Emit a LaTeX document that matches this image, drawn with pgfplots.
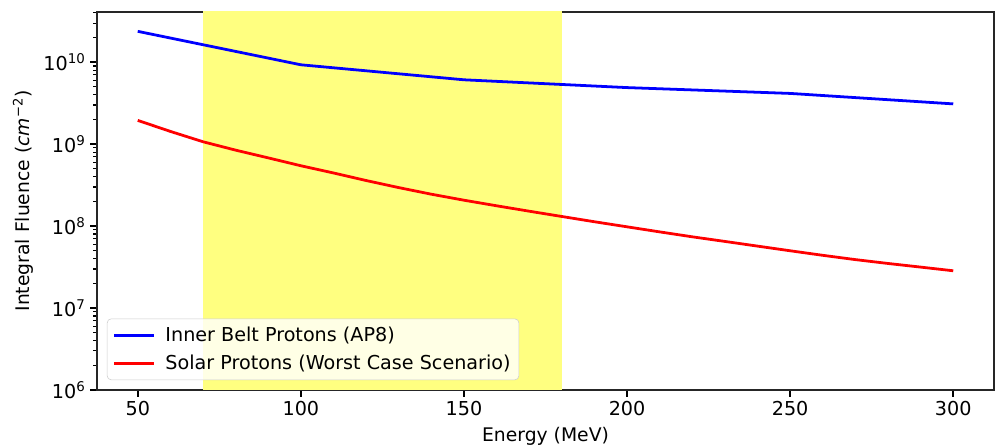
\documentclass[border=0pt]{standalone}
\usepackage{fontspec}
\setmainfont{DejaVu Sans}
\usepackage{pgfplots}
\pgfplotsset{compat=1.18}
\begin{document}
\begin{tikzpicture}[x=0.72pt,y=0.72pt]
\useasboundingbox (-97,-56) rectangle (899,390);
\begin{axis}[
  at={(0,0)}, anchor=south west,
  scale only axis, width=645.84pt, height=272.16pt,
  xmode=normal, ymode=log,
  xmin=37.5, xmax=312.5, ymin=1e6, ymax=4.1e10,
  xtick={50,100,150,200,250,300},
  ytick={1e6,1e7,1e8,1e9,1e10},
  minor ytick={2e6,3e6,4e6,5e6,6e6,7e6,8e6,9e6,2e7,3e7,4e7,5e7,6e7,7e7,8e7,9e7,2e8,3e8,4e8,5e8,6e8,7e8,8e8,9e8,2e9,3e9,4e9,5e9,6e9,7e9,8e9,9e9,2e10,3e10,4e10},
  yticklabels={10\textsuperscript{6},10\textsuperscript{7},10\textsuperscript{8},10\textsuperscript{9},10\textsuperscript{10}},
  /pgf/number format/assume math mode=true,
  tick label style={font=\fontsize{13.8}{16}\selectfont},
  label style={font=\fontsize{13.5}{16}\selectfont},
  tick align=outside, tick pos=left,
  major tick length=4.7pt, minor tick length=2.7pt,
  every tick/.style={line width=1.1pt, black},
  minor tick style={line width=0.8pt},
  axis line style={line width=1.1pt, black!85},
  xlabel={Energy (MeV)},
  ylabel={Integral Fluence (\textit{cm}\textsuperscript{−2})},
  xlabel style={yshift=-1pt},
  ylabel style={yshift=0pt},
  legend style={at={(0.011,0.026)}, anchor=south west, font=\fontsize{13.8}{16}\selectfont,
    draw=black!20, fill=white, fill opacity=0.8, text opacity=1, rounded corners=3pt,
    row sep=4pt, column sep=5pt, inner xsep=4pt, inner ysep=4pt},
  legend cell align=left,
  legend image code/.code={\draw[#1, line width=2pt] (0pt,0pt) -- (29pt,0pt);},
]
\addplot[forget plot, draw=none, fill={rgb,255:red,255;green,255;blue,128}] coordinates {(70,5e5) (180,5e5) (180,1e11) (70,1e11)} -- cycle;
\addplot[blue, line width=2pt] coordinates {
(50,2.38e10) (100,9.3e9) (150,6.1e9) (200,4.9e9) (250,4.16e9) (300,3.1e9)};
\addlegendentry{Inner Belt Protons (AP8)}
\addplot[red, line width=2pt] coordinates {
(50,1.95e9) (60,1.43e9) (70,1.07e9) (80,8.45e8) (90,6.8e8) (100,5.45e8)
(110,4.45e8) (120,3.6e8) (130,2.95e8) (140,2.45e8) (150,2.07e8) (160,1.77e8)
(170,1.52e8) (180,1.31e8) (190,1.13e8) (200,9.8e7) (210,8.5e7) (220,7.4e7)
(230,6.5e7) (240,5.7e7) (250,5.0e7) (260,4.4e7) (270,3.9e7) (280,3.5e7)
(290,3.16e7) (300,2.85e7)};
\addlegendentry{Solar Protons (Worst Case Scenario)}
\end{axis}
\end{tikzpicture}
\end{document}
